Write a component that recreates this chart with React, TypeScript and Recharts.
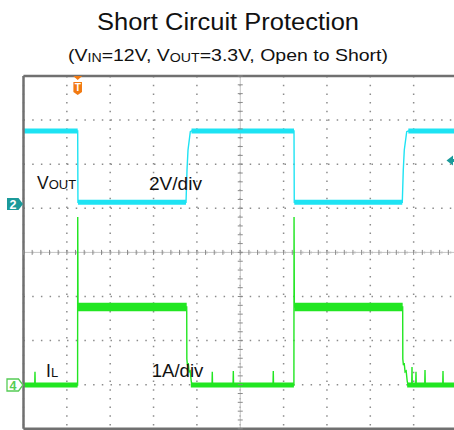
import React from "react";
import {
  ComposedChart,
  Line,
  XAxis,
  YAxis,
  CartesianGrid,
  ReferenceLine,
  ReferenceDot,
  Scatter,
} from "recharts";

// time axis in screen divisions (10 across), VOUT in volts (2V/div), IL in amps (1A/div)
const vOutTime = [0, 1.25, 1.256, 3.749, 3.772, 3.795, 3.848, 3.875, 6.24, 6.246, 8.738, 8.761, 8.784, 8.84, 8.877, 10];
const vOutVolts = [3.31, 3.31, 0.08, 0.08, 1.55, 2.45, 3.28, 3.31, 3.31, 0.08, 0.08, 1.55, 2.45, 3.28, 3.31, 3.31];

const ilTime = [
  0, 0.259, 0.265, 0.271, 1.248, 1.251, 1.258, 3.765, 3.768, 3.782, 3.8, 3.82, 3.845, 3.87, 3.89,
  4.349, 4.355, 4.361, 4.834, 4.84, 4.846, 5.756, 5.762, 5.768, 6.238, 6.241, 6.248,
  8.747, 8.75, 8.764, 8.782, 8.802, 8.827, 8.852, 8.872, 8.956, 8.962, 8.968,
  9.048, 9.054, 9.06, 9.256, 9.262, 9.268, 9.671, 9.677, 9.683, 10,
];
const ilAmps = [
  0, 0, 0.3, 0, 0, 3.81, 1.77, 1.77, 0.59, 0.45, 0.5, 0.3, 0.32, 0.08, 0,
  0, 0.3, 0, 0, 0.32, 0, 0, 0.32, 0, 0, 3.81, 1.77,
  1.77, 0.59, 0.45, 0.5, 0.3, 0.32, 0.08, 0, 0, 0.41, 0,
  0, 0.3, 0, 0, 0.34, 0, 0, 0.32, 0, 0,
];

// flat stretches where the noise band is visible: [start, end, level]
const vOutBands: [number, number, number][] = [
  [0, 1.25, 3.31],
  [1.256, 3.749, 0.08],
  [3.875, 6.24, 3.31],
  [6.246, 8.738, 0.08],
  [8.877, 10, 3.31],
];
const ilLowBands: [number, number, number][] = [
  [0, 1.248, 0],
  [3.86, 6.238, 0],
  [8.85, 10, 0],
];
const ilHighBands: [number, number, number][] = [
  [1.258, 3.765, 1.77],
  [6.248, 8.747, 1.77],
];

const triggerTime = 1.25;
const triggerLevel = 1.97;

const divX = [0, 1, 2, 3, 4, 5, 6, 7, 8, 9, 10];
const divY = [-4, -3, -2, -1, 0, 1, 2, 3, 4];
const minorX = Array.from({ length: 51 }, (_, k) => +(k * 0.2).toFixed(2));
const minorY = Array.from({ length: 41 }, (_, k) => +(-4 + k * 0.2).toFixed(2));

const CYAN = "#1ee3f3";
const GREEN = "#22e622";
const FONT = "'Liberation Sans', Arial, sans-serif";

const vOutData = vOutTime.map((t, i) => ({ t, v: vOutVolts[i] }));
const ilData = ilTime.map((t, i) => ({ t, a: ilAmps[i] }));
const centerRow = minorX.map((t) => ({ t, g: 0 }));
const centerCol = minorY.map((g) => ({ t: 5, g }));

const VTick = (p: any) => (
  <line x1={p.cx} x2={p.cx} y1={p.cy - 2.5} y2={p.cy + 2.5} stroke="#8a8a8a" strokeWidth={1} />
);
const HTick = (p: any) => (
  <line x1={p.cx - 2.5} x2={p.cx + 2.5} y1={p.cy} y2={p.cy} stroke="#8a8a8a" strokeWidth={1} />
);

const TriggerMark = (p: any) => {
  const { cx, cy } = p;
  return (
    <g>
      <path d={`M${cx - 4.5},${cy} L${cx + 4.5},${cy} L${cx},${cy + 4} Z`} fill="#f27a12" />
      <path
        d={`M${cx - 4.3},${cy + 6} H${cx + 4.3} V${cy + 16} L${cx},${cy + 19} L${cx - 4.3},${cy + 16} Z`}
        fill="#f27a12"
      />
      <text x={cx} y={cy + 15} textAnchor="middle" fontSize={10} fontWeight="bold" fill="#fff" fontFamily={FONT}>
        T
      </text>
    </g>
  );
};

const ChannelMark = ({ cx, cy, label, color, outline }: any) => (
  <g>
    <path
      d={`M${cx - 16.5},${cy - 6} H${cx - 5} L${cx - 0.5},${cy} L${cx - 5},${cy + 6} H${cx - 16.5} Z`}
      fill={outline ? "#fff" : color}
      stroke={color}
      strokeWidth={outline ? 1.3 : 0}
    />
    <text
      x={cx - 10.5}
      y={cy + 4.5}
      textAnchor="middle"
      fontSize={12.5}
      fontWeight="bold"
      fill={outline ? color : "#fff"}
      fontFamily={FONT}
    >
      {label}
    </text>
  </g>
);

const LevelMark = (p: any) => {
  const { cx, cy } = p;
  return (
    <path
      d={`M${cx - 10.5},${cy} L${cx - 4},${cy - 5} V${cy - 1.5} H${cx + 2} V${cy + 1.5} H${cx - 4} V${cy + 5} Z`}
      fill="#1b9a9a"
    />
  );
};

function bandLines(bands: [number, number, number][], key: string, yAxisId: string, color: string, width: number) {
  return bands.map(([s, e, lvl], i) => (
    <Line
      key={`${key}-${i}`}
      data={[
        { t: s, [key]: lvl },
        { t: e, [key]: lvl },
      ]}
      dataKey={key}
      yAxisId={yAxisId}
      stroke={color}
      strokeWidth={width}
      dot={false}
      activeDot={false}
      isAnimationActive={false}
    />
  ));
}

export default function App() {
  return (
    <div
      style={{
        position: "absolute",
        left: 0,
        top: 0,
        width: 454,
        height: 430,
        overflow: "hidden",
        background: "#fff",
      }}
    >
      <ComposedChart width={462} height={434} margin={{ top: 76, left: 23.5, right: 5, bottom: 5.2 }}>
        <XAxis xAxisId={0} dataKey="t" type="number" domain={[0, 10]} ticks={divX} hide />
        <XAxis
          xAxisId="top"
          orientation="top"
          mirror
          type="number"
          domain={[0, 10]}
          ticks={minorX}
          interval={0}
          tick={false}
          tickSize={3.5}
          axisLine={{ stroke: "#707070", strokeWidth: 2.5 }}
          tickLine={{ stroke: "#8a8a8a" }}
        />
        <XAxis
          xAxisId="bottom"
          orientation="bottom"
          mirror
          type="number"
          domain={[0, 10]}
          ticks={minorX}
          interval={0}
          tick={false}
          tickSize={3.5}
          axisLine={{ stroke: "#707070", strokeWidth: 2.5 }}
          tickLine={{ stroke: "#8a8a8a" }}
        />
        <YAxis yAxisId="grid" dataKey="g" type="number" domain={[-4, 4]} ticks={divY} hide />
        <YAxis
          yAxisId="left"
          mirror
          type="number"
          domain={[-4, 4]}
          ticks={minorY}
          interval={0}
          tick={false}
          tickSize={3.5}
          axisLine={{ stroke: "#707070", strokeWidth: 2.5 }}
          tickLine={{ stroke: "#8a8a8a" }}
        />
        <YAxis yAxisId="v" type="number" domain={[-10.195, 5.805]} hide />
        <YAxis yAxisId="i" type="number" domain={[-0.993, 7.007]} hide />

        <CartesianGrid xAxisId={0} yAxisId="grid" stroke="#8c8c8c" strokeWidth={1.5} strokeDasharray="1.5 7.2" />
        <ReferenceLine xAxisId={0} yAxisId="grid" x={5} stroke="#c4c4c4" strokeWidth={1} />
        <ReferenceLine xAxisId={0} yAxisId="grid" y={0} stroke="#c4c4c4" strokeWidth={1} />
        <Scatter data={centerRow} xAxisId={0} yAxisId="grid" shape={VTick} isAnimationActive={false} />
        <Scatter data={centerCol} xAxisId={0} yAxisId="grid" shape={HTick} isAnimationActive={false} />

        {bandLines(ilLowBands, "a", "i", GREEN, 5)}
        {bandLines(ilHighBands, "a", "i", GREEN, 8.5)}
        <Line
          data={ilData}
          dataKey="a"
          yAxisId="i"
          stroke={GREEN}
          strokeWidth={1.4}
          dot={false}
          activeDot={false}
          isAnimationActive={false}
        />
        {bandLines(vOutBands, "v", "v", CYAN, 5)}
        <Line
          data={vOutData}
          dataKey="v"
          yAxisId="v"
          stroke={CYAN}
          strokeWidth={1.4}
          dot={false}
          activeDot={false}
          isAnimationActive={false}
        />

        <ReferenceDot xAxisId={0} yAxisId="grid" x={triggerTime} y={4} shape={TriggerMark} />
        <ReferenceDot
          xAxisId={0}
          yAxisId="v"
          x={0}
          y={0}
          shape={(p: any) => <ChannelMark cx={p.cx} cy={p.cy} label="2" color="#1b9a9a" />}
        />
        <ReferenceDot
          xAxisId={0}
          yAxisId="i"
          x={0}
          y={0}
          shape={(p: any) => <ChannelMark cx={p.cx} cy={p.cy} label="4" color="#55cc55" outline />}
        />
        <ReferenceDot xAxisId={0} yAxisId="v" x={10} y={triggerLevel} shape={LevelMark} />
      </ComposedChart>

      <svg
        width={454}
        height={430}
        style={{ position: "absolute", left: 0, top: 0, pointerEvents: "none" }}
        fontFamily={FONT}
      >
        <text x={228} y={30} textAnchor="middle" fontSize={23} fill="#111" textLength={262} lengthAdjust="spacingAndGlyphs">
          Short Circuit Protection
        </text>
        <text x={228} y={60.5} textAnchor="middle" fontSize={16.5} fill="#111" textLength={320} lengthAdjust="spacingAndGlyphs">
          (V
          <tspan fontSize={12} dy={1.3}>IN</tspan>
          <tspan dy={-1.3}>=12V, V</tspan>
          <tspan fontSize={12} dy={1.3}>OUT</tspan>
          <tspan dy={-1.3}>=3.3V, Open to Short)</tspan>
        </text>
        <text x={37} y={189.3} fontSize={17.5} fill="#111">
          V<tspan fontSize={13}>OUT</tspan>
        </text>
        <text x={149} y={190} fontSize={18.5} fill="#111" textLength={53} lengthAdjust="spacingAndGlyphs">
          2V/div
        </text>
        <text x={46} y={377.3} fontSize={17.5} fill="#111">
          I<tspan fontSize={13}>L</tspan>
        </text>
        <text x={151.7} y={377} fontSize={18.5} fill="#111" textLength={51.6} lengthAdjust="spacingAndGlyphs">
          1A/div
        </text>
      </svg>
    </div>
  );
}
